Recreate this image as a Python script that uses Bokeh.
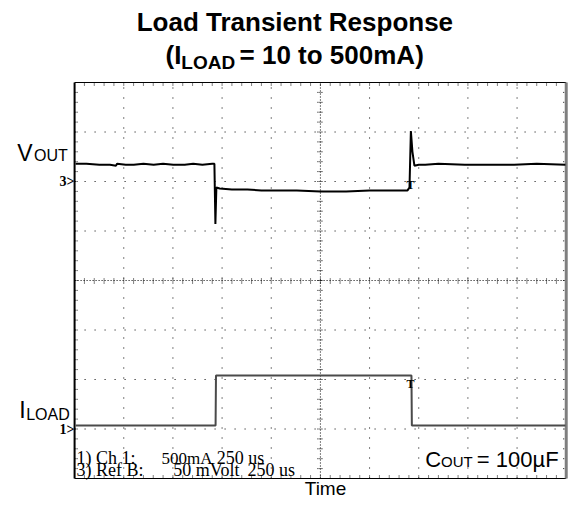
from bokeh.plotting import figure
from bokeh.models import Range1d
from bokeh.embed import file_html
from bokeh.resources import INLINE
from bokeh.core.properties import value

# ---------------- data ----------------
time_per_div_us = 250
n_xdiv = 10
n_ydiv = 8
vout_ref_div = 6          # "3>" marker level (divisions from bottom)
iload_ref_div = 1         # "1>" marker level
vout_mv_per_div = 50      # Ref B: 50 mVolt/div
iload_ma_per_div = 500    # Ch 1: 500 mA/div

vout_t_us = [5, 60, 126, 180, 211, 216, 260, 301, 350, 402,
             450, 502, 560, 603, 650, 700, 711, 716, 721, 738,
             800, 879, 950, 1020, 1130, 1250, 1381, 1500, 1633, 1693,
             1703, 1710, 1718, 1728, 1750, 1783, 1850, 1984, 2100, 2235,
             2350, 2496]
vout_mv = [18, 18, 17, 17, 16, 18, 17, 17, 18, 17,
           18, 17, 17, 18, 17, 18, 18, -43, -6, -7,
           -8, -8, -9, -9, -9, -10, -10, -9, -9, -9,
           -6, 51, 30, 16, 17, 17, 18, 17, 17, 17,
           18, 17]

iload_t_us = [5, 717, 719, 1713, 1715, 2496]
iload_ma = [35, 35, 540, 540, 35, 35]

# ---------------- geometry helpers (reference pixel -> data) ----------------
FX0, FX1 = 75.0, 572.7          # scope frame left/right (reference px)
FY0, FY1 = 481.0, 85.0          # scope frame bottom/top (reference px)
XS = (FX1 - FX0) / (n_xdiv * time_per_div_us)   # px per us
YS = (FY0 - FY1) / n_ydiv                       # px per div


def tx(px):
    return (px - FX0) / XS


def ty(py):
    return (FY0 - py) / YS


W, H = 568, 499
REF_W = 575      # reference width squeezed into W
SHIFT = 3        # vertical shift (px) so the bottom label fits
p = figure(width=W, height=H, output_backend="svg", toolbar_location=None,
           x_range=Range1d(tx(0), tx(REF_W)),
           y_range=Range1d(ty(H + SHIFT), ty(SHIFT)),
           x_axis_type=None, y_axis_type=None, min_border=0,
           outline_line_color=None, background_fill_color="white",
           border_fill_color="white")
p.grid.visible = False

T_END = n_xdiv * time_per_div_us
xmin_step = time_per_div_us / 5
ymin_step = 1 / 5

# grid lines (dotted)
for k in range(1, n_xdiv):
    t = k * time_per_div_us
    dash = "1 2" if k == n_xdiv // 2 else "1 9"
    p.line([t, t], [0, n_ydiv], line_color="black", line_width=1, line_dash=dash)
for j in range(1, n_ydiv):
    dash = "1 2" if j == n_ydiv // 2 else "1 9"
    p.line([0, T_END], [j, j], line_color="black", line_width=1, line_dash=dash)

# minor ticks on centre cross and frame edges
tick_x0, tick_x1, tick_y0, tick_y1 = [], [], [], []
tl_t = 3 / XS
tl_y = 3 / YS
for m in range(1, n_xdiv * 5):
    t = m * xmin_step
    tick_x0 += [t, t, t]
    tick_x1 += [t, t, t]
    tick_y0 += [n_ydiv / 2 - tl_y, n_ydiv, 0]
    tick_y1 += [n_ydiv / 2 + tl_y, n_ydiv - tl_y, tl_y]
for m in range(1, n_ydiv * 5):
    y = m * ymin_step
    tick_x0 += [T_END / 2 - tl_t, 0, T_END]
    tick_x1 += [T_END / 2 + tl_t, tl_t, T_END - tl_t]
    tick_y0 += [y, y, y]
    tick_y1 += [y, y, y]
p.segment(tick_x0, tick_y0, tick_x1, tick_y1, line_color="black", line_width=1,
          line_dash="1 1")

# frame
p.line([0, T_END], [n_ydiv, n_ydiv], line_color="black", line_width=1)
p.line([0, T_END], [0, 0], line_color="black", line_width=1)
p.line([0, 0], [0, n_ydiv], line_color="black", line_width=2)
p.line([T_END, T_END], [0, n_ydiv], line_color="#7f7f7f", line_width=3)

# traces
iy = [iload_ref_div + v / iload_ma_per_div for v in iload_ma]
p.line(iload_t_us, iy, line_color="#4a4a4a", line_width=2)
vy = [vout_ref_div + v / vout_mv_per_div for v in vout_mv]
p.line(vout_t_us, vy, line_color="black", line_width=2)

SANS = value("Liberation Sans")
SERIF = value("Liberation Serif")


def txt(px, py, s, size, font=SANS, style="normal", align="left", color="black"):
    # py is the wanted alphabetic baseline; draw with a "middle" baseline
    p.text(x=[tx(px)], y=[ty(py - 0.31 * size)], text=[s], text_font=font,
           text_font_size=f"{size}px", text_font_style=style, text_align=align,
           text_baseline="middle", text_color=color)


# title
txt(298, 33, "Load Transient Response", 26, style="bold", align="center")
txt(167, 66, "(I", 26, style="bold")
txt(183, 71, "LOAD", 19, style="bold")
txt(242, 66, "= 10 to 500mA)", 26, style="bold")

# channel labels
txt(17, 163, "V", 23)
txt(34, 163, "OUT", 16)
txt(19, 420, "I", 23)
txt(26, 422, "LOAD", 16)

# reference markers
p.text(x=[0], y=[vout_ref_div], text=["3>"], text_font=SERIF, text_font_size="14px",
       text_font_style="bold", text_align="right", text_baseline="middle")
p.text(x=[0], y=[iload_ref_div], text=["1>"], text_font=SERIF, text_font_size="14px",
       text_font_style="bold", text_align="right", text_baseline="middle")

# trigger markers
txt(411, 191, "T", 12, font=SERIF, style="bold")
txt(411, 390, "T", 12, font=SERIF, style="bold")

# scope readout
txt(77, 466, "1) Ch 1:", 18, font=SERIF)
txt(163, 466, "500mA", 17, font=SERIF)
txt(219, 466, "250 us", 18, font=SERIF)
txt(77, 478, "3) Ref B:", 18, font=SERIF)
txt(175, 478, "50 mVolt", 18, font=SERIF)
txt(250, 478, "250 us", 18, font=SERIF)

# C_OUT note
txt(565, 469, "= 100\u00b5F", 22, align="right")
txt(478, 469, "OUT", 15, align="right")
txt(446, 469, "C", 22, align="right")

# x label
txt(329, 497, "Time", 19, align="center")

open("out.html", "w").write(file_html(p, INLINE))
